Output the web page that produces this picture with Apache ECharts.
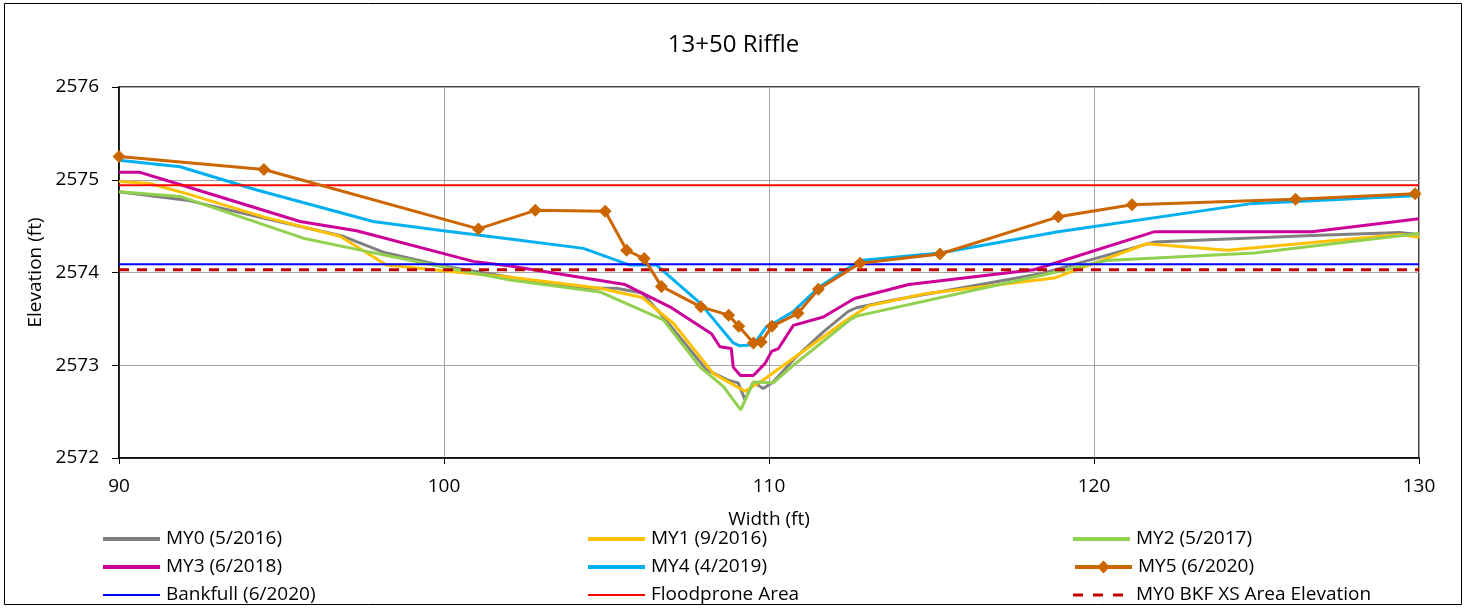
<!DOCTYPE html>
<html><head><meta charset="utf-8">
<script src="https://cdn.jsdelivr.net/npm/echarts@6/dist/echarts.min.js"></script>
<style>html,body{margin:0;padding:0;background:#fff}#c{width:1467px;height:609px}</style>
</head><body><div id="c"></div>
<script>
const my0 = [[90,2574.87],[92.08,2574.78],[94.54,2574.58],[96.9,2574.39],[98.13,2574.22],[99.98,2574.07],[102.03,2573.95],[104.08,2573.83],[105.3,2573.83],[106.1,2573.78],[106.65,2573.56],[108.08,2572.95],[108.74,2572.84],[109.05,2572.81],[109.26,2572.63],[109.52,2572.82],[109.82,2572.75],[110.13,2572.82],[110.75,2573.06],[111.67,2573.36],[112.44,2573.58],[112.69,2573.62],[113.8,2573.70],[118.4,2573.99],[121.87,2574.33],[126.71,2574.40],[129.44,2574.43],[130,2574.41]];
const my1 = [[90,2574.98],[90.95,2574.96],[92.08,2574.85],[94.44,2574.60],[96.8,2574.39],[98.23,2574.08],[99.98,2574.02],[102.03,2573.95],[104.8,2573.83],[106.1,2573.73],[107.06,2573.45],[108.29,2572.91],[109.26,2572.72],[109.82,2572.84],[112.4,2573.49],[113.06,2573.64],[114.8,2573.77],[118.77,2573.94],[121.62,2574.31],[124.1,2574.24],[129.44,2574.41],[130,2574.38]];
const my2 = [[90,2574.87],[91.88,2574.82],[95.67,2574.37],[97.72,2574.22],[99.98,2574.06],[102.03,2573.92],[104.8,2573.79],[106.75,2573.49],[107.88,2572.98],[108.6,2572.77],[109.13,2572.52],[109.52,2572.82],[110.13,2572.81],[110.75,2573.0],[112.49,2573.49],[112.69,2573.53],[118.4,2573.97],[120.38,2574.13],[124.94,2574.21],[130,2574.42]];
const my3 = [[90,2575.08],[90.65,2575.08],[91.77,2574.96],[95.57,2574.55],[97.31,2574.45],[100.9,2574.12],[102.03,2574.07],[105.57,2573.87],[106.95,2573.63],[108.23,2573.34],[108.49,2573.20],[108.84,2573.18],[108.9,2572.98],[109.12,2572.89],[109.52,2572.89],[109.88,2573.02],[110.08,2573.15],[110.29,2573.18],[110.75,2573.43],[111.67,2573.52],[112.63,2573.72],[114.3,2573.87],[118.15,2574.03],[121.87,2574.44],[126.71,2574.44],[130,2574.58]];
const my4 = [[90,2575.21],[91.88,2575.14],[94.24,2574.89],[97.82,2574.55],[99.98,2574.45],[102.03,2574.36],[104.29,2574.26],[105.72,2574.08],[106.54,2574.08],[107.88,2573.67],[108.9,2573.24],[109.1,2573.21],[109.52,2573.22],[109.93,2573.42],[110.13,2573.45],[110.75,2573.58],[111.57,2573.85],[112.8,2574.13],[115.26,2574.21],[118.9,2574.44],[124.79,2574.74],[130,2574.83]];
const my5 = [[90,2575.25],[94.46,2575.11],[101.06,2574.47],[102.81,2574.67],[104.96,2574.66],[105.62,2574.24],[106.16,2574.15],[106.69,2573.85],[107.90,2573.63],[108.76,2573.54],[109.07,2573.42],[109.52,2573.24],[109.76,2573.25],[110.09,2573.42],[110.89,2573.56],[111.52,2573.82],[112.8,2574.10],[115.26,2574.20],[118.9,2574.60],[121.17,2574.73],[126.2,2574.79],[129.88,2574.85]];
const bankfull = [[90,2574.09],[130,2574.09]];
const floodprone = [[90,2574.94],[130,2574.94]];
const bkfXs = [[90,2574.03],[130,2574.03]];
const seriesNames = ['MY0 (5/2016)','MY1 (9/2016)','MY2 (5/2017)','MY3 (6/2018)','MY4 (4/2019)','MY5 (6/2020)','Bankfull (6/2020)','Floodprone Area','MY0 BKF XS Area Elevation'];

const FONT = "'Open Sans','Liberation Sans',Arial,sans-serif";
const chart = echarts.init(document.getElementById('c'), null, {renderer:'canvas'});
function line(name, data, color, width, extra) {
  return Object.assign({name, type:'line', data, symbol:'none', showSymbol:false, animation:false,
    lineStyle:{color, width}, itemStyle:{color}, z:3}, extra||{});
}
const colLeft = [103, 588, 1073];
const rowCenter = [537, 565, 593];
const DASH = 'path://M0,0h10v3h-10z M20,0h10v3h-10z M40,0h10v3h-10z';
const legendSpec = [
  [0,0,0,4,'rect'],[3,0,1,4,'rect'],[6,0,2,2,'rect'],
  [1,1,0,4,'rect'],[4,1,1,4,'rect'],[7,1,2,2,'rect'],
  [2,2,0,4,'rect'],[5,2,1,16,null],[8,2,2,3,DASH]
];
const legends = legendSpec.map(([si,c,r,h,icon]) => {
  const isDash = icon === DASH;
  const o = {
    left: colLeft[c], top: rowCenter[r] - 8, padding: 0,
    itemWidth: isDash ? 50 : 57, itemHeight: h,
    textStyle:{fontSize:19, color:'#000', fontFamily:FONT, padding: isDash ? [0,0,0,8] : [0,0,0,1], lineHeight:20},
    data:[icon ? {name: seriesNames[si], icon} : {name: seriesNames[si]}],
    selectedMode:false
  };
  if (!icon) o.lineStyle = {width: 4};
  return o;
});
chart.setOption({
  animation:false,
  title:{text:'13+50 Riffle', left:'center', top:28, textStyle:{fontSize:24, fontWeight:'normal', color:'#000', fontFamily:FONT}},
  graphic:[{type:'rect', shape:{x:4.5,y:3.5,width:1457,height:601}, style:{fill:'none', stroke:'#000', lineWidth:1}, silent:true}],
  grid:{left:119, top:87, width:1300, height:371, show:true, borderColor:'#000', borderWidth:1.5},
  xAxis:{type:'value', min:90, max:130, interval:10, name:'Width (ft)', nameLocation:'middle', nameGap:52,
    nameTextStyle:{fontSize:19, color:'#000', fontFamily:FONT},
    axisLine:{show:true, lineStyle:{color:'#000', width:1.5}}, axisTick:{show:true, length:6, lineStyle:{color:'#000'}},
    axisLabel:{fontSize:19, color:'#000', fontFamily:FONT, margin:19},
    splitLine:{show:true, lineStyle:{color:'#A6A6A6', width:1}}},
  yAxis:{type:'value', min:2572, max:2576, interval:1, name:'Elevation (ft)', nameLocation:'middle', nameGap:73,
    nameTextStyle:{fontSize:19, color:'#000', fontFamily:FONT},
    axisLine:{show:true, lineStyle:{color:'#000', width:1.5}}, axisTick:{show:true, length:7, lineStyle:{color:'#000'}},
    axisLabel:{fontSize:19, color:'#000', fontFamily:FONT, margin:20, formatter:(v)=>String(v)},
    splitLine:{show:true, lineStyle:{color:'#A6A6A6', width:1}}},
  legend: legends,
  series:[
    line(seriesNames[0], my0, '#808080', 3),
    line(seriesNames[1], my1, '#FFC000', 3),
    line(seriesNames[2], my2, '#92D050', 3),
    line(seriesNames[3], my3, '#CC0099', 3),
    line(seriesNames[4], my4, '#00B0F0', 3),
    line(seriesNames[5], my5, '#CC6600', 3, {symbol:'diamond', showSymbol:true, symbolSize:13, z:5}),
    line(seriesNames[6], bankfull, '#0000FF', 2),
    line(seriesNames[7], floodprone, '#FF0000', 2),
    line(seriesNames[8], bkfXs, '#C00000', 3, {lineStyle:{color:'#C00000', width:3, type:[10,8]}})
  ]
});
</script></body></html>
